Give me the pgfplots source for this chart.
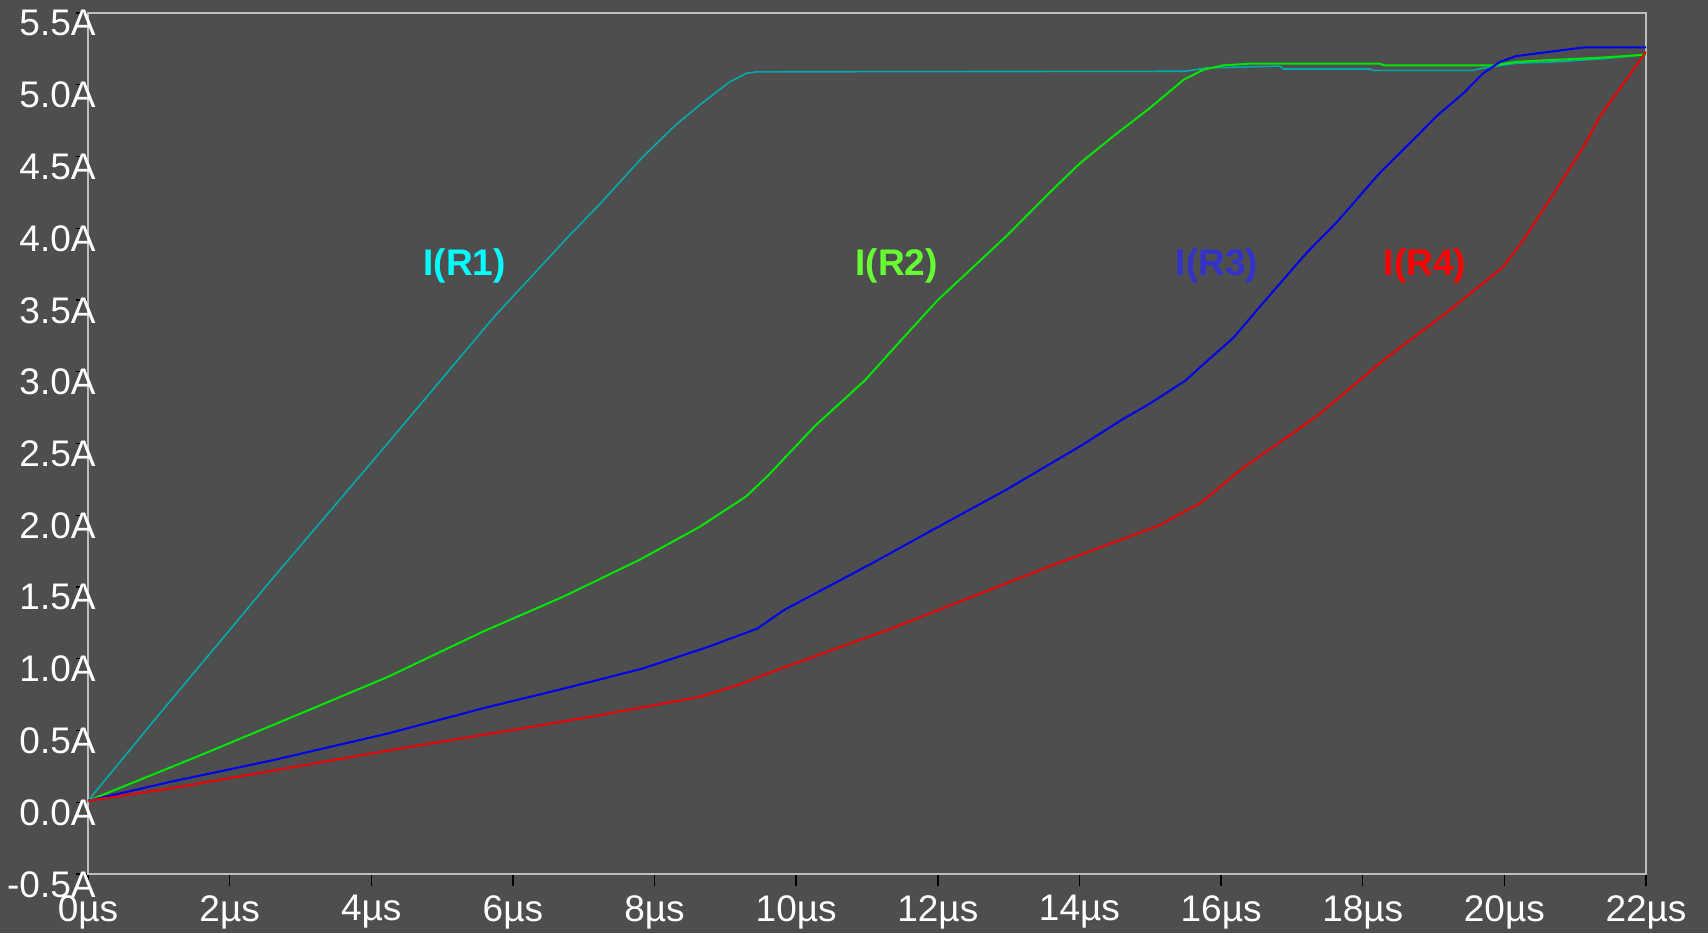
\documentclass[border=0pt]{standalone}
\usepackage{fontspec}
\setmainfont{Liberation Sans}
\usepackage{pgfplots}
\pgfplotsset{compat=1.18}
\definecolor{bg}{RGB}{78,78,78}
\definecolor{framegray}{RGB}{190,190,190}
\definecolor{tR1}{RGB}{0,170,170}
\definecolor{tR2}{RGB}{0,230,0}
\definecolor{tR3}{RGB}{0,0,240}
\definecolor{tR4}{RGB}{240,0,0}
\definecolor{lR1}{RGB}{0,255,255}
\definecolor{lR2}{RGB}{102,255,51}
\definecolor{lR3}{RGB}{51,51,204}
\definecolor{lR4}{RGB}{255,0,0}
\begin{document}
\begin{tikzpicture}
\fill[bg] (-44pt,-29.5pt) rectangle (810pt,437pt);
\begin{axis}[
  at={(0,0)}, anchor=south west,
  scale only axis, width=779pt, height=430.5pt,
  xmin=0, xmax=22, ymin=-0.5, ymax=5.5,
  axis line style={framegray, line width=1pt},
  axis background/.style={fill=bg},
  xtick={0,2,4,6,8,10,12,14,16,18,20,22},
  xticklabels={0µs,2µs,4µs,6µs,8µs,10µs,12µs,14µs,16µs,18µs,20µs,22µs},
  ytick={-0.5,0,0.5,1,1.5,2,2.5,3,3.5,4,4.5,5,5.5},
  yticklabels={-0.5A,0.0A,0.5A,1.0A,1.5A,2.0A,2.5A,3.0A,3.5A,4.0A,4.5A,5.0A,5.5A},
  tick align=outside, tick pos=left, major tick length=6pt,
  every tick/.style={black, line width=0.7pt},
  tick label style={font=\fontsize{18.5}{18.5}\selectfont, text=white, inner sep=0pt},
  xticklabel style={anchor=north, yshift=-4.5pt},
  yticklabel style={anchor=north east, xshift=10pt, yshift=1.5pt},
  every axis plot/.append style={line width=1pt},
  clip=true,
]
\addplot[tR1, line width=0.8pt] coordinates {(0,0.01)(1,0.61)(2,1.20)(2.59,1.55)(4.11,2.43)(5.73,3.38)(6.76,3.93)(7.23,4.17)(7.84,4.50)(8.3,4.72)(8.64,4.86)(9.06,5.02)(9.30,5.08)(9.44,5.09)(15.5,5.094)(15.79,5.117)(16.83,5.13)(16.88,5.11)(18.1,5.11)(18.15,5.10)(19.56,5.10)(19.70,5.117)(20.17,5.15)(20.74,5.16)(21.35,5.18)(22,5.21)};
\addplot[tR2] coordinates {(0,0.01)(1.535,0.317)(3.01,0.62)(4.24,0.875)(5.58,1.19)(6.70,1.43)(7.79,1.69)(8.64,1.92)(9.29,2.13)(9.61,2.28)(10.26,2.62)(10.97,2.94)(11.5,3.23)(12,3.50)(12.5,3.73)(13,3.96)(13.5,4.21)(14,4.45)(14.5,4.65)(15,4.84)(15.47,5.035)(15.75,5.105)(16.03,5.135)(16.41,5.147)(18.24,5.147)(18.3,5.135)(19.84,5.135)(20.17,5.16)(21.4,5.19)(22,5.21)};
\addplot[tR3] coordinates {(0,0.01)(1.17,0.143)(2.62,0.294)(4.24,0.48)(5.58,0.655)(6.70,0.79)(7.82,0.93)(8.74,1.08)(9.45,1.21)(9.83,1.34)(11.07,1.665)(11.88,1.885)(12.96,2.176)(14.04,2.49)(14.58,2.66)(15.0,2.78)(15.5,2.94)(15.70,3.03)(16.17,3.235)(16.55,3.455)(17.21,3.83)(17.63,4.04)(18.24,4.385)(18.76,4.64)(19.04,4.78)(19.42,4.94)(19.70,5.08)(19.94,5.16)(20.17,5.20)(20.64,5.23)(21.12,5.26)(22,5.26)};
\addplot[tR4] coordinates {(0,0.01)(1.17,0.097)(2.79,0.236)(4.47,0.38)(6.14,0.515)(7.26,0.61)(8.64,0.735)(9.18,0.817)(9.72,0.92)(11.34,1.21)(12.42,1.42)(13.61,1.65)(15.13,1.93)(15.72,2.09)(16.31,2.33)(17.12,2.61)(17.40,2.71)(18.29,3.08)(19.23,3.43)(19.98,3.73)(20.27,3.92)(20.64,4.20)(21.12,4.57)(21.35,4.78)(22,5.23)};
\node[text=lR1, font=\fontsize{18.5}{18.5}\selectfont\bfseries] at (axis cs:5.32,3.74) {I(R1)};
\node[text=lR2, font=\fontsize{18.5}{18.5}\selectfont\bfseries] at (axis cs:11.42,3.74) {I(R2)};
\node[text=lR3, font=\fontsize{18.5}{18.5}\selectfont\bfseries] at (axis cs:15.94,3.74) {I(R3)};
\node[text=lR4, font=\fontsize{18.5}{18.5}\selectfont\bfseries] at (axis cs:18.88,3.74) {I(R4)};
\end{axis}
\pgfresetboundingbox
\useasboundingbox (-44pt,-29.5pt) rectangle (810pt,437pt);
\end{tikzpicture}
\end{document}
